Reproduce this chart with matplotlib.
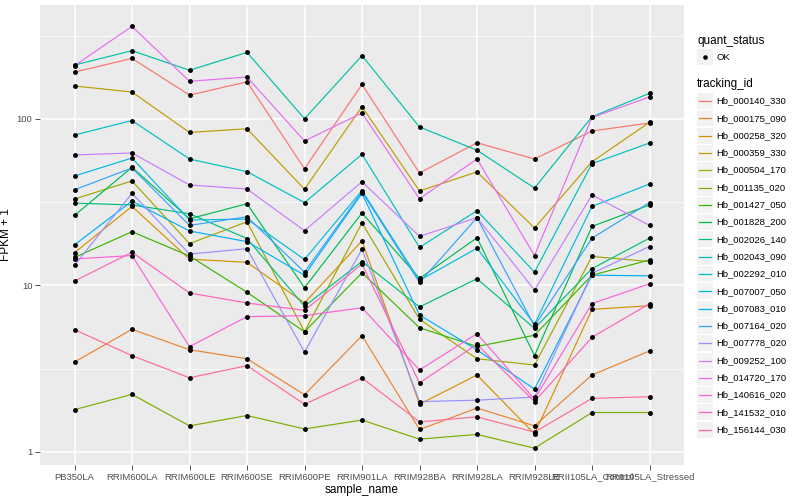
import matplotlib
matplotlib.use('Agg')
import matplotlib.pyplot as plt
from matplotlib.patches import Rectangle
from matplotlib.lines import Line2D

plt.rcParams['font.family'] = ['Liberation Sans', 'DejaVu Sans']

samples = ['PB350LA', 'RRIM600LA', 'RRIM600LE', 'RRIM600SE', 'RRIM600PE', 'RRIM901LA',
           'RRIM928BA', 'RRIM928LA', 'RRIM928LE', 'RRII105LA_Control', 'RRII105LA_Stressed']

tracking_ids = ['Hb_000140_330', 'Hb_000175_090', 'Hb_000258_320', 'Hb_000359_330',
                'Hb_000504_170', 'Hb_001135_020', 'Hb_001427_050', 'Hb_001828_200',
                'Hb_002026_140', 'Hb_002043_090', 'Hb_002292_010', 'Hb_007007_050',
                'Hb_007083_010', 'Hb_007164_020', 'Hb_007778_020', 'Hb_009252_100',
                'Hb_014720_170', 'Hb_140616_020', 'Hb_141532_010', 'Hb_156144_030']

# FPKM + 1 per sample
hb_000140_330 = [191, 231, 139, 167, 50.2, 161, 47.3, 71.9, 57.4, 84.6, 94.5]
hb_000175_090 = [3.46, 5.44, 4.10, 3.62, 2.20, 4.98, 1.36, 1.83, 1.43, 2.89, 4.03]
hb_000258_320 = [15.7, 29.8, 14.35, 13.75, 7.83, 18.5, 1.93, 2.89, 1.28, 7.17, 7.54]
hb_000359_330 = [157.6, 145.1, 82.9, 87.3, 37.8, 118.4, 36.9, 48.0, 22.1, 55.3, 95.4]
hb_000504_170 = [33.0, 42.4, 17.8, 24.1, 5.26, 23.7, 6.25, 3.62, 3.32, 14.9, 13.9]
hb_001135_020 = [1.79, 2.21, 1.43, 1.65, 1.37, 1.55, 1.19, 1.27, 1.05, 1.72, 1.72]
hb_001427_050 = [14.7, 21.0, 15.0, 9.08, 5.26, 11.9, 5.56, 4.29, 5.01, 11.5, 14.2]
hb_001828_200 = [26.3, 51.2, 25.1, 30.9, 9.67, 27.2, 11.0, 19.3, 3.78, 22.6, 30.4]
hb_002026_140 = [31.2, 30.4, 26.9, 19.1, 7.48, 13.9, 7.41, 10.96, 5.51, 12.6, 19.2]
hb_002043_090 = [210.8, 257, 196, 251, 100.3, 240, 89.4, 64.8, 38.4, 103, 142.5]
hb_002292_010 = [80.0, 97.8, 57.4, 48.2, 31.4, 61.3, 16.9, 28.1, 12.0, 53.8, 71.6]
hb_007007_050 = [45.4, 58.2, 24.7, 25.0, 14.3, 37.1, 10.7, 16.7, 5.83, 29.8, 40.6]
hb_007083_010 = [17.5, 32.1, 21.2, 18.3, 11.5, 35.7, 6.63, 4.09, 2.38, 11.5, 11.4]
hb_007164_020 = [37.5, 50.7, 22.9, 25.8, 12.0, 36.4, 10.4, 25.5, 5.69, 19.2, 31.4]
hb_007778_020 = [13.2, 35.7, 15.4, 16.6, 3.97, 16.5, 2.00, 2.04, 2.13, 11.8, 17.1]
hb_009252_100 = [60.7, 62.4, 40.1, 37.9, 21.3, 41.9, 19.7, 25.5, 9.37, 34.9, 22.9]
hb_014720_170 = [208.8, 360, 168.3, 178.5, 73.7, 108.5, 33.1, 57.4, 15.1, 102, 135.4]
hb_140616_020 = [14.4, 15.1, 4.28, 6.48, 6.57, 7.33, 3.10, 5.12, 2.07, 7.77, 10.2]
hb_141532_010 = [10.6, 15.8, 8.99, 7.83, 7.07, 13.4, 2.59, 4.42, 2.00, 4.87, 7.75]
hb_156144_030 = [5.41, 3.78, 2.78, 3.29, 1.93, 2.77, 1.51, 1.62, 1.31, 2.09, 2.14]

series = [hb_000140_330, hb_000175_090, hb_000258_320, hb_000359_330, hb_000504_170,
          hb_001135_020, hb_001427_050, hb_001828_200, hb_002026_140, hb_002043_090,
          hb_002292_010, hb_007007_050, hb_007083_010, hb_007164_020, hb_007778_020,
          hb_009252_100, hb_014720_170, hb_140616_020, hb_141532_010, hb_156144_030]

# ggplot hue palette, 20 levels
colors = ['#F8766D', '#EA8331', '#D89000', '#C09B00', '#A3A500', '#7CAE00', '#39B600',
          '#00BB4E', '#00BF7D', '#00C1A3', '#00BFC4', '#00BAE0', '#00B0F6', '#35A2FF',
          '#9590FF', '#C77CFF', '#E76BF3', '#FA62DB', '#FF62BC', '#FF6C91']

W, H = 800, 500
fig = plt.figure(figsize=(8, 5), dpi=100)
ax = fig.add_axes([40 / W, 35 / H, 644 / W, 460 / H])
ax.set_facecolor('#EBEBEB')
for s in ax.spines.values():
    s.set_visible(False)

x = list(range(len(samples)))
for vals, c in zip(series, colors):
    ax.plot(x, vals, color=c, lw=0.85, zorder=3)
for vals in series:
    ax.plot(x, vals, 'o', color='black', ms=2.5, zorder=4)

ax.set_yscale('log')
ax.set_ylim(10 ** -0.0799, 10 ** 2.6845)
ax.set_xlim(-0.6, len(samples) - 0.4)
ax.set_yticks([1, 10, 100])
ax.set_yticklabels(['1', '10', '100'])
ax.set_yticks([10 ** 0.5, 10 ** 1.5, 10 ** 2.5], minor=True)
ax.set_yticklabels([], minor=True)
ax.set_xticks(x)
ax.set_xticklabels(samples)
ax.tick_params(axis='both', which='major', length=3.5, width=0.6, color='#333333',
               labelsize=6.8, labelcolor='#4D4D4D', pad=2)
ax.tick_params(axis='y', which='minor', length=0)
ax.grid(True, which='major', color='white', lw=1.1, zorder=0)
ax.grid(True, which='minor', axis='y', color='white', lw=0.55, zorder=0)
ax.set_axisbelow(True)

ax.set_xlabel('sample_name', fontsize=8.5, labelpad=2)
ax.set_ylabel('FPKM + 1', fontsize=8.5, labelpad=3)

# legend, ggplot style
def fx(px):
    return px / W

def fy(py):
    return 1 - py / H

fig.text(fx(697), fy(40.7), 'quant_status', fontsize=8.5, va='center', ha='left')
fig.add_artist(Rectangle((fx(697), fy(65)), fx(15.5), 16 / H, facecolor='#F2F2F2',
                         edgecolor='none', transform=fig.transFigure))
fig.add_artist(Line2D([fx(705)], [fy(57)], marker='o', color='black', ms=2.3,
                      transform=fig.transFigure))
fig.text(fx(716.5), fy(57), 'OK', fontsize=6.8, va='center', ha='left')

fig.text(fx(697), fy(84.3), 'tracking_id', fontsize=8.5, va='center', ha='left')
for i, (tid, c) in enumerate(zip(tracking_ids, colors)):
    yc = 101 + i * 17.3
    fig.add_artist(Rectangle((fx(697), fy(yc + 8)), fx(15.5), 16 / H, facecolor='#F2F2F2',
                             edgecolor='none', transform=fig.transFigure))
    fig.add_artist(Line2D([fx(698.5), fx(711)], [fy(yc), fy(yc)], color=c, lw=0.9,
                          transform=fig.transFigure))
    fig.text(fx(716.5), fy(yc), tid, fontsize=6.8, va='center', ha='left')

fig.savefig('out.png', dpi=100)
